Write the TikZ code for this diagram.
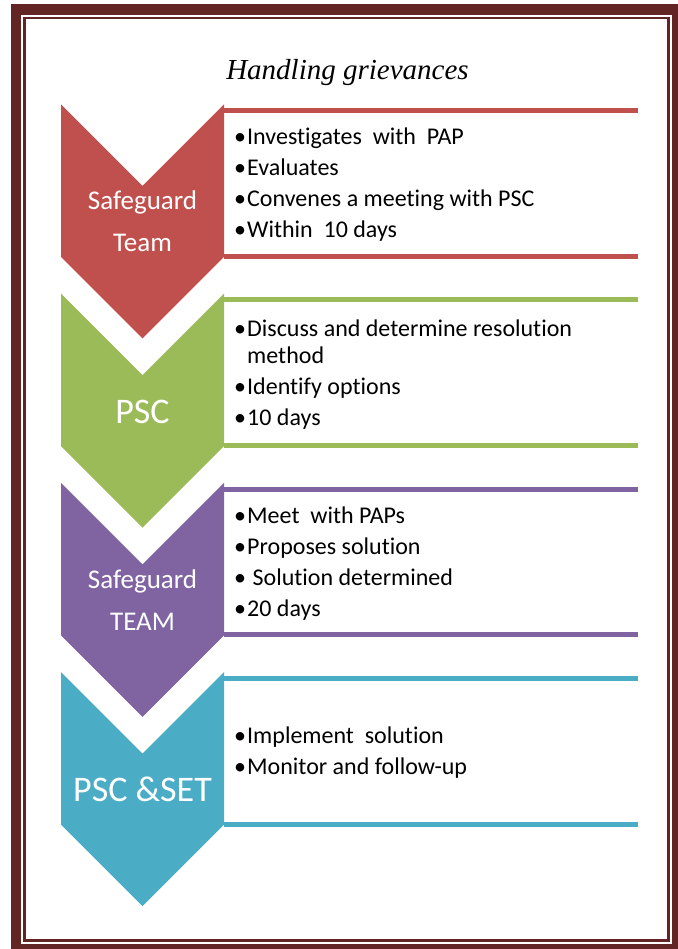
\documentclass[tikz,border=0pt]{standalone}
\usepackage{fontspec}
\setmainfont{Carlito}[Ligatures={NoCommon}]
\newfontfamily\titlefont{Liberation Serif}
\definecolor{framecol}{HTML}{632523}
\definecolor{stepred}{HTML}{C0504D}
\definecolor{stepgreen}{HTML}{9BBB59}
\definecolor{steppurple}{HTML}{8064A2}
\definecolor{stepcyan}{HTML}{4BACC6}
% bullet item with a fixed hanging indent
\newcommand\bitem[1]{\makebox[14pt][l]{\hspace*{1pt}\textbullet}#1}
\newcommand\bcont[1]{\hspace*{14pt}#1}

\begin{document}
\begin{tikzpicture}[x=1pt,y=-1pt,
  chevlabel/.style={text=white, align=center, inner sep=0pt,
    font=\fontsize{27}{42.3}\selectfont},
  biglabel/.style={text=white, inner sep=0pt, anchor=base,
    font=\fontsize{36}{36}\selectfont},
  bodytext/.style={text=black, align=left, inner sep=0pt, anchor=west,
    font=\fontsize{24}{27}\selectfont},
  bar/.style={line width=5pt}]
\useasboundingbox (0,0) rectangle (677,949);
\fill[white] (0,0) rectangle (677,949);

% double frame
\draw[framecol, line width=10.5pt] (16,9.5) rectangle (677.25,949.25);
\draw[framecol, line width=2.6pt] (24.5,18) rectangle (668.5,940.5);

% title
\node[anchor=base, inner sep=0pt, font=\titlefont\itshape\fontsize{29}{29}\selectfont]
  (title) at (347.5,80) {Handling grievances};

% chevrons with their text panels
\foreach \i/\col in {0/stepred,1/stepgreen,2/steppurple,3/stepcyan}{
  \pgfmathsetmacro\T{104.3+189.3*\i}
  \fill[white] (224,\T+6.3) rectangle (637.5,\T+152);
  \draw[\col, bar] (224,\T+6.3) -- (637.5,\T+6.3);
  \draw[\col, bar] (224,\T+152) -- (637.5,\T+152);
  \fill[\col] (61,\T) -- (142.5,\T+81.5) -- (224,\T) -- (224,\T+152.5)
    -- (142.5,\T+234) -- (61,\T+152.5) -- cycle;
}

% chevron labels
\node[chevlabel] (lab1) at (142.5,221.5) {Safeguard\\Team};
\node[biglabel] (lab2) at (142.5,423.3) {PSC};
\node[chevlabel] (lab3) at (142.5,600.1) {Safeguard\\TEAM};
\node[biglabel] (lab4) at (142.5,801) {PSC \&SET};

% panel texts
\node[bodytext] (txt1) at (233,185)
  {\bitem{Investigates\ \ with\ \ PAP}\\[4pt]
   \bitem{Evaluates}\\[4pt]
   \bitem{Convenes a meeting with PSC}\\[4pt]
   \bitem{Within\ \ 10 days}};
\node[bodytext] (txt2) at (233,374.3)
  {\bitem{Discuss and determine resolution}\\
   \bcont{method}\\[4pt]
   \bitem{Identify options}\\[4pt]
   \bitem{10 days}};
\node[bodytext] (txt3) at (233,563.6)
  {\bitem{Meet\ \ with PAPs}\\[4pt]
   \bitem{Proposes solution}\\[4pt]
   \bitem{\ Solution determined}\\[4pt]
   \bitem{20 days}};
\node[bodytext] (txt4) at (233,753)
  {\bitem{Implement\ \ solution}\\[4pt]
   \bitem{Monitor and follow-up}};
\end{tikzpicture}
\end{document}
